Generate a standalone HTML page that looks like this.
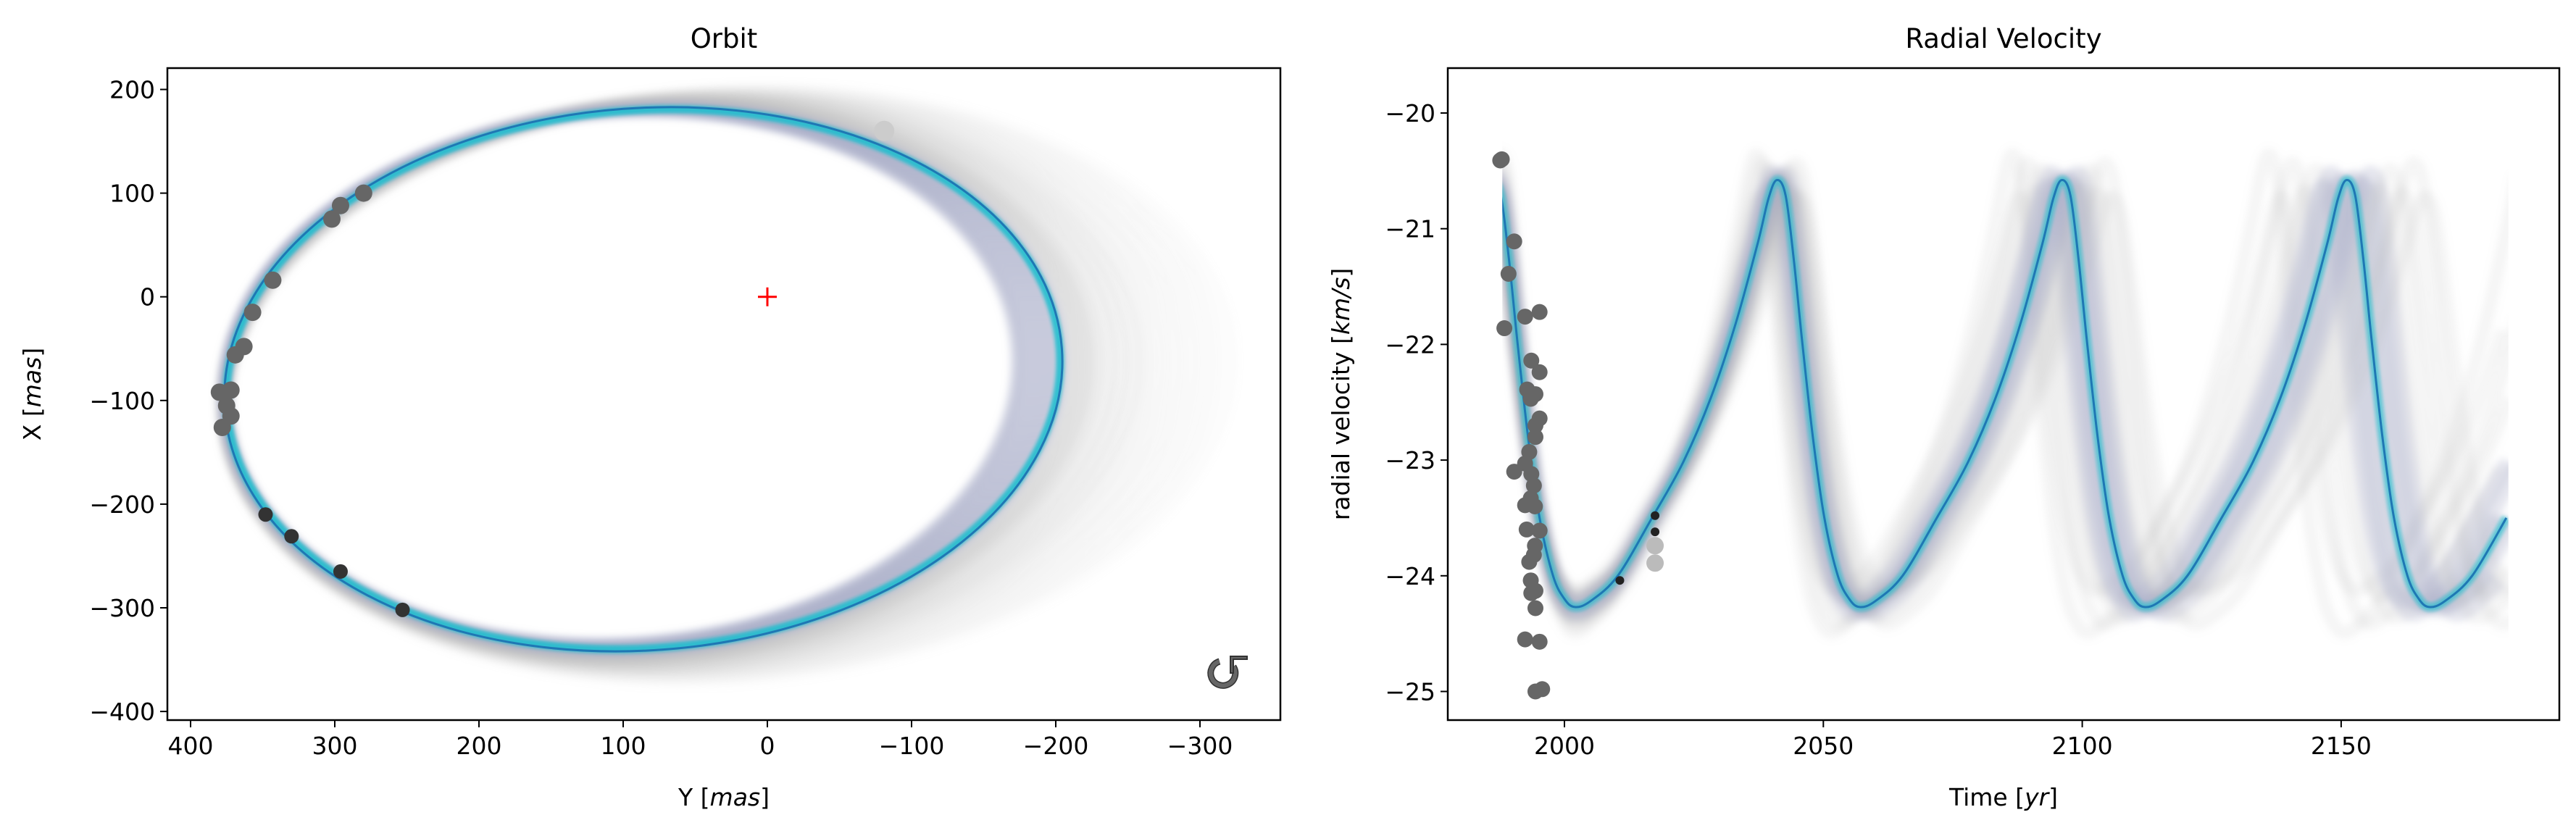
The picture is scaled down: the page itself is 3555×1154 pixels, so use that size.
<!DOCTYPE html>
<html><head><meta charset="utf-8"><style>
html,body{margin:0;padding:0;background:#fff;}
svg{display:block;font-family:"DejaVu Sans","Liberation Sans",sans-serif;}
</style></head><body>
<svg id="fig" width="3555" height="1154" viewBox="0 0 3555 1154" xmlns="http://www.w3.org/2000/svg">
<defs>
<filter id="blur6" x="-10%" y="-10%" width="120%" height="120%"><feGaussianBlur stdDeviation="5"/></filter>
<filter id="blur3" x="-10%" y="-10%" width="120%" height="120%"><feGaussianBlur stdDeviation="2.5"/></filter>
</defs>
<rect width="3555" height="1154" fill="#fff"/>
<g id="orbit"></g>
<g id="rv"></g>
</svg>
<script>
// ---------- Orbit data ----------
const orbitXTicks = [400,300,200,100,0,-100,-200,-300];
const orbitYTicks = [200,100,0,-100,-200,-300,-400];
const orbitEllipse = {cY:86, cX:-79.5, aY:291, aX:261.5, rot:-4.2};
const orbitSpreadInner = [0.945,0.952,0.96,0.968,0.976,0.984,0.992,1.0];
const orbitSpreadOuter = [1.01,1.02,1.03,1.04,1.055,1.07,1.085,1.1,1.12,1.14,1.16,1.18,1.2];
const obsMidY = [280,296,302,343,357,363,369,372,380,375,372,378];
const obsMidX = [100,88,75,16,-15,-48,-56,-90,-92,-105,-115,-126];
const obsDarkY = [348,330,296,253];
const obsDarkX = [-210,-231,-265,-302];
const obsLightY = [-81];
const obsLightX = [160];

// ---------- RV data ----------
const rvXTicks = [2000,2050,2100,2150];
const rvYTicks = [-20,-21,-22,-23,-24,-25];
const cycleStarts = [1947,2002,2057,2112,2167];
const cycleOffsets = [0,3,8.3,14.9,20.8,26.2,31,35.3,37.4,39,40.7,42.3,43.9,46,48.2,50.8,53];
const cycleValues = [-24.27,-24.22,-24.0,-23.5,-23.03,-22.47,-21.83,-21.13,-20.74,-20.58,-20.71,-21.27,-21.97,-22.81,-23.5,-24.0,-24.2];
const rvPeriodFactors = [0.9,0.915,0.93,0.945,0.96,0.97,0.98,0.99,1.0,1.01,1.02,1.03,1.04,1.055,1.07,1.085,1.1];
const rvAmpFactors = [1.12,0.92,1.08,0.95,1.05,0.97,1.03,0.99,1.0,1.01,0.98,1.03,0.96,1.05,0.94,1.08,0.92];
const rvMidT = [1987.6,1987.9,1990.3,1989.2,1988.4,1992.4,1995.2,1993.6,1995.2,1992.8,1993.5,1994.4,1995.2,1994.4,1994.4,1993.2,1990.3,1992.4,1993.6,1994.1,1992.4,1994.3,1993.5,1992.7,1995.2,1994.3,1994.1,1993.2,1993.5,1993.6,1994.4,1994.4,1992.4,1995.2,1994.4,1995.7];
const rvMidV = [-20.41,-20.40,-21.11,-21.39,-21.86,-21.76,-21.72,-22.14,-22.24,-22.39,-22.47,-22.43,-22.64,-22.70,-22.80,-22.93,-23.10,-23.03,-23.12,-23.22,-23.39,-23.40,-23.33,-23.60,-23.61,-23.74,-23.82,-23.88,-24.04,-24.15,-24.13,-24.28,-24.55,-24.57,-25.0,-24.98];
const rvDarkT = [2010.7,2017.5,2017.5];
const rvDarkV = [-24.04,-23.48,-23.62];
const rvLightT = [2017.5,2017.5];
const rvLightV = [-23.74,-23.89];

const NS="http://www.w3.org/2000/svg";
function mk(parent,tag,attrs,text){const e=document.createElementNS(NS,tag);for(const k in attrs)e.setAttribute(k,attrs[k]);if(text!==undefined)e.textContent=text;parent.appendChild(e);return e;}
const FS=33;

// ---------- Orbit panel ----------
(function(){
const g=document.getElementById('orbit');
const L=231,R=1767,T=94,B=994;
const sx=v=>1059-v*1.99;
const sy=v=>409.7-v*1.431;
const clip=mk(g,'clipPath',{id:'oclip'});mk(clip,'rect',{x:L,y:T,width:R-L,height:B-T});
const outer=mk(g,'g',{'clip-path':'url(#oclip)'});
const band=mk(outer,'g',{filter:'url(#blur6)'});


const e=orbitEllipse;
const leftPx=sx(e.cY+e.aY);
function draw(k,color,w,op){
  const rx=e.aY*1.99*k, ry=e.aX*1.431*(1+(k-1)*0.4);
  const cx=leftPx+rx, cy=sy(e.cX)+(k-1)*40;
  const el=mk(band,'ellipse',{cx:cx,cy:cy,rx:rx,ry:ry,fill:'none',stroke:color,'stroke-width':w,'stroke-opacity':op,transform:`rotate(${e.rot} ${cx} ${cy})`});
  
  
}
orbitSpreadOuter.forEach((k,i)=>draw(k,'#b5b5b5',22,0.22*(1-i/orbitSpreadOuter.length)+0.03));
orbitSpreadInner.forEach((k,i)=>draw(k,'#a8acc8',16,0.45));
const cx0=sx(e.cY),cy0=sy(e.cX);
const cyan=mk(outer,'ellipse',{cx:cx0,cy:cy0,rx:e.aY*1.99-3,ry:e.aX*1.431-3,fill:'none',stroke:'#17becf','stroke-width':11,'stroke-opacity':0.85,filter:'url(#blur3)',transform:`rotate(${e.rot} ${cx0} ${cy0})`});


const main=mk(outer,'ellipse',{cx:cx0,cy:cy0,rx:e.aY*1.99,ry:e.aX*1.431,fill:'none',stroke:'#1f77b4','stroke-width':3,transform:`rotate(${e.rot} ${cx0} ${cy0})`});


obsMidY.forEach((y,i)=>{const c=mk(g,'circle',{cx:sx(y),cy:sy(obsMidX[i]),r:12,fill:'#666'});

});
obsDarkY.forEach((y,i)=>{const c=mk(g,'circle',{cx:sx(y),cy:sy(obsDarkX[i]),r:10,fill:'#333'});

});
obsLightY.forEach((y,i)=>{const c=mk(g,'circle',{cx:sx(y),cy:sy(obsLightX[i]),r:14,fill:'#ccc'});

});
const star=mk(g,'path',{d:`M${sx(0)-13},${sy(0)}h26M${sx(0)},${sy(0)-13}v26`,stroke:'red','stroke-width':3});


const ic=mk(g,'g',{});


mk(ic,'path',{d:'M1683,913 A17,17 0 1,0 1702,920',fill:'none',stroke:'#333','stroke-width':9});
mk(ic,'path',{d:'M1683,913 A17,17 0 1,0 1702,920',fill:'none',stroke:'#666','stroke-width':6});
mk(ic,'path',{d:'M1698,906 L1721,906 L1721,910 L1702,910 L1702,929 L1698,929 Z',fill:'#666',stroke:'#333','stroke-width':2});
const fr=mk(g,'rect',{x:L,y:T,width:R-L,height:B-T,fill:'none',stroke:'#000','stroke-width':2.5});


orbitXTicks.forEach(v=>{mk(g,'line',{x1:sx(v),x2:sx(v),y1:B,y2:B+10,stroke:'#000','stroke-width':2});
const t=mk(g,'text',{x:sx(v),y:B+47,'font-size':FS,'text-anchor':'middle'},v<0?'\u2212'+(-v):''+v);

});
orbitYTicks.forEach(v=>{mk(g,'line',{x1:L-10,x2:L,y1:sy(v),y2:sy(v),stroke:'#000','stroke-width':2});
const t=mk(g,'text',{x:L-17,y:sy(v)+12,'font-size':FS,'text-anchor':'end'},v<0?'\u2212'+(-v):''+v);

});
const ti=mk(g,'text',{x:(L+R)/2,y:66,'font-size':37,'text-anchor':'middle'},'Orbit');


const xl=mk(g,'text',{x:(L+R)/2,y:1112,'font-size':FS,'text-anchor':'middle'});
xl.innerHTML='Y [<tspan font-style="italic">mas</tspan>]';


const yl=mk(g,'text',{x:0,y:0,'font-size':FS,'text-anchor':'middle',transform:`translate(56 ${(T+B)/2}) rotate(-90)`});
yl.innerHTML='X [<tspan font-style="italic">mas</tspan>]';


})();

// ---------- RV panel ----------
(function(){
const g=document.getElementById('rv');
const L=1998,R=3532,T=94,B=994;
const sx=t=>2159+(t-2000)*7.146;
const sy=v=>156+(-20-v)*159.7;
const clip=mk(g,'clipPath',{id:'rclip'});mk(clip,'rect',{x:L,y:T,width:R-L,height:B-T});
const area=mk(g,'g',{'clip-path':'url(#rclip)'});
const mid=-22.43;
function curvePts(f,a){
  const pts=[];
  cycleStarts.forEach(s=>{cycleOffsets.forEach((o,i)=>{
    const t=s+o;
    const tt=2000+(t-2000)*f; if(tt<1985||tt>2185)return;
    pts.push([sx(tt),sy(mid+(cycleValues[i]-mid)*a)]);
  });});
  return pts;
}
function smooth(p){
  let d=`M${p[0][0]},${p[0][1]}`;
  for(let i=0;i<p.length-1;i++){
    const p0=p[i-1]||p[i],p1=p[i],p2=p[i+1],p3=p[i+2]||p2;
    const c1=[p1[0]+(p2[0]-p0[0])/6,p1[1]+(p2[1]-p0[1])/6];
    const c2=[p2[0]-(p3[0]-p1[0])/6,p2[1]-(p3[1]-p1[1])/6];
    d+=` C${c1[0]},${c1[1]} ${c2[0]},${c2[1]} ${p2[0]},${p2[1]}`;
  }
  return d;
}
const dclip=mk(g,'clipPath',{id:'dclip'});mk(dclip,'rect',{x:sx(1988),y:T,width:sx(2182.3)-sx(1988),height:B-T});
const draws=mk(area,'g',{'clip-path':'url(#dclip)'});
const bl=mk(draws,'g',{filter:'url(#blur6)'});


rvPeriodFactors.forEach((f,i)=>{
  const near=Math.abs(f-1)<=0.031;
  const p=mk(bl,'path',{d:smooth(curvePts(f,rvAmpFactors[i])),fill:'none',stroke:near?'#a8acc8':'#b0b0b0','stroke-width':near?22:18,'stroke-opacity':near?0.3:0.12});
  
  
});
const cy=mk(draws,'path',{d:smooth(curvePts(1,1)),fill:'none',stroke:'#17becf','stroke-width':12,'stroke-opacity':0.6,filter:'url(#blur3)'});


const ml=mk(draws,'path',{d:smooth(curvePts(1,1)),fill:'none',stroke:'#1f77b4','stroke-width':3});


rvMidT.forEach((t,i)=>{const c=mk(g,'circle',{cx:sx(t),cy:sy(rvMidV[i]),r:11,fill:'#666'});

});
rvDarkT.forEach((t,i)=>{const c=mk(g,'circle',{cx:sx(t),cy:sy(rvDarkV[i]),r:6,fill:'#222'});

});
rvLightT.forEach((t,i)=>{const c=mk(g,'circle',{cx:sx(t),cy:sy(rvLightV[i]),r:12,fill:'#bbb'});

});
const fr=mk(g,'rect',{x:L,y:T,width:R-L,height:B-T,fill:'none',stroke:'#000','stroke-width':2.5});


rvXTicks.forEach(v=>{mk(g,'line',{x1:sx(v),x2:sx(v),y1:B,y2:B+10,stroke:'#000','stroke-width':2});
const t=mk(g,'text',{x:sx(v),y:B+47,'font-size':FS,'text-anchor':'middle'},''+v);

});
rvYTicks.forEach(v=>{mk(g,'line',{x1:L-10,x2:L,y1:sy(v),y2:sy(v),stroke:'#000','stroke-width':2});
const t=mk(g,'text',{x:L-17,y:sy(v)+12,'font-size':FS,'text-anchor':'end'},'\u2212'+(-v));

});
const ti=mk(g,'text',{x:(L+R)/2,y:66,'font-size':37,'text-anchor':'middle'},'Radial Velocity');


const xl=mk(g,'text',{x:(L+R)/2,y:1112,'font-size':FS,'text-anchor':'middle'});
xl.innerHTML='Time [<tspan font-style="italic">yr</tspan>]';


const yl=mk(g,'text',{x:0,y:0,'font-size':FS,'text-anchor':'middle',transform:`translate(1862 ${(T+B)/2}) rotate(-90)`});
yl.innerHTML='radial velocity [<tspan font-style="italic">km/s</tspan>]';


})();
</script>
</body></html>
